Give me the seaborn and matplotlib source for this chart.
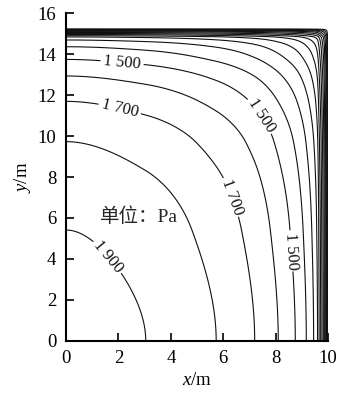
import numpy as np
import matplotlib
matplotlib.use("Agg")
import matplotlib.pyplot as plt
import seaborn as sns

# Pressure profile along the bottom edge (y = 0): position of each value
x_pos = [0.0, 3.04, 5.73, 7.20, 8.10, 8.75, 9.17, 9.45, 9.60, 9.66, 9.72, 9.77,
         9.82, 9.86, 9.89, 9.92, 9.94, 9.96, 9.975, 9.99, 10.0]
x_val = [1945, 1900, 1800, 1700, 1600, 1500, 1400, 1300, 1200, 1100, 1000, 900,
         800, 700, 600, 500, 400, 300, 200, 100, 0]
# Pressure profile along the left edge (x = 0)
y_pos = [0.0, 5.41, 9.73, 11.70, 12.94, 13.75, 14.37, 14.70, 14.85, 14.91, 14.97, 15.02,
         15.07, 15.11, 15.14, 15.17, 15.19, 15.21, 15.225, 15.24, 15.25]
y_val = [1945, 1900, 1800, 1700, 1600, 1500, 1400, 1300, 1200, 1100, 1000, 900,
         800, 700, 600, 500, 400, 300, 200, 100, 0]
p_center = 1945
levels = list(range(100, 2000, 100))
label_levels = [1500, 1700, 1900]
label_pos = [(2.15, 13.75), (7.7, 11.2), (8.75, 4.4), (2.1, 11.6), (6.5, 7.1), (1.8, 4.3)]
x_ticks = [0, 2, 4, 6, 8, 10]
y_ticks = [0, 2, 4, 6, 8, 10, 12, 14, 16]


def pchip(xk, yk, x):
    xk = np.asarray(xk, float); yk = np.asarray(yk, float)
    h = np.diff(xk); d = np.diff(yk) / h
    m = np.zeros_like(xk)
    for k in range(1, len(xk) - 1):
        if d[k - 1] * d[k] > 0:
            w1 = 2 * h[k] + h[k - 1]; w2 = h[k] + 2 * h[k - 1]
            m[k] = (w1 + w2) / (w1 / d[k - 1] + w2 / d[k])
    m[0] = 0.0
    m[-1] = d[-1]
    idx = np.clip(np.searchsorted(xk, x) - 1, 0, len(h) - 1)
    t = (x - xk[idx]) / h[idx]
    h00 = 2 * t**3 - 3 * t**2 + 1; h10 = t**3 - 2 * t**2 + t
    h01 = -2 * t**3 + 3 * t**2; h11 = t**3 - t**2
    return h00 * yk[idx] + h10 * h[idx] * m[idx] + h01 * yk[idx + 1] + h11 * h[idx] * m[idx + 1]


sns.set_theme(style="ticks")
plt.rcParams['font.family'] = ['Liberation Serif', 'Noto Sans CJK SC', 'DejaVu Sans']
plt.rcParams['mathtext.fontset'] = 'custom'
plt.rcParams['mathtext.rm'] = 'Liberation Serif'
plt.rcParams['mathtext.it'] = 'Liberation Serif:italic'

fig = plt.figure(figsize=(3.39, 3.94), dpi=100)
ax = fig.add_axes([0.195, 0.1353, 0.7726, 0.8307])

xg = np.linspace(0, 10, 501)
yg = np.linspace(0, y_pos[-1], 501)
fx = pchip(x_pos, x_val, xg)
fy = pchip(y_pos, y_val, yg)
Z = np.outer(fy, fx) / p_center
X, Y = np.meshgrid(xg, yg)

other_levels = [v for v in levels if v not in label_levels]
ax.contour(X, Y, Z, levels=other_levels, colors='#111111', linewidths=0.8)
cs = ax.contour(X, Y, Z, levels=label_levels, colors='#111111', linewidths=0.8)
ax.clabel(cs, manual=label_pos, inline=True, fontsize=12,
          inline_spacing=3, fmt=lambda v: f"{int(v):,}".replace(",", " "))

ax.text(1.3, 6.05, "单位：Pa", fontsize=14, va='center', ha='left',
        family=['Liberation Serif', 'Noto Sans CJK SC'])

ax.set_xlim(0, 10)
ax.set_ylim(0, 16)
ax.set_xticks(x_ticks)
ax.set_yticks(y_ticks)
ax.tick_params(direction='in', length=6, width=1.2, labelsize=13.5, pad=7, colors='black')
for s in ['top', 'right']:
    ax.spines[s].set_visible(False)
for s in ['left', 'bottom']:
    ax.spines[s].set_linewidth(1.5)
    ax.spines[s].set_color('black')
ax.set_xlabel("$x$/m", fontsize=13.5, labelpad=3, color='black')
ax.set_ylabel("$y$/m", fontsize=13.5, labelpad=3, color='black')

fig.savefig("out.png", dpi=100)
